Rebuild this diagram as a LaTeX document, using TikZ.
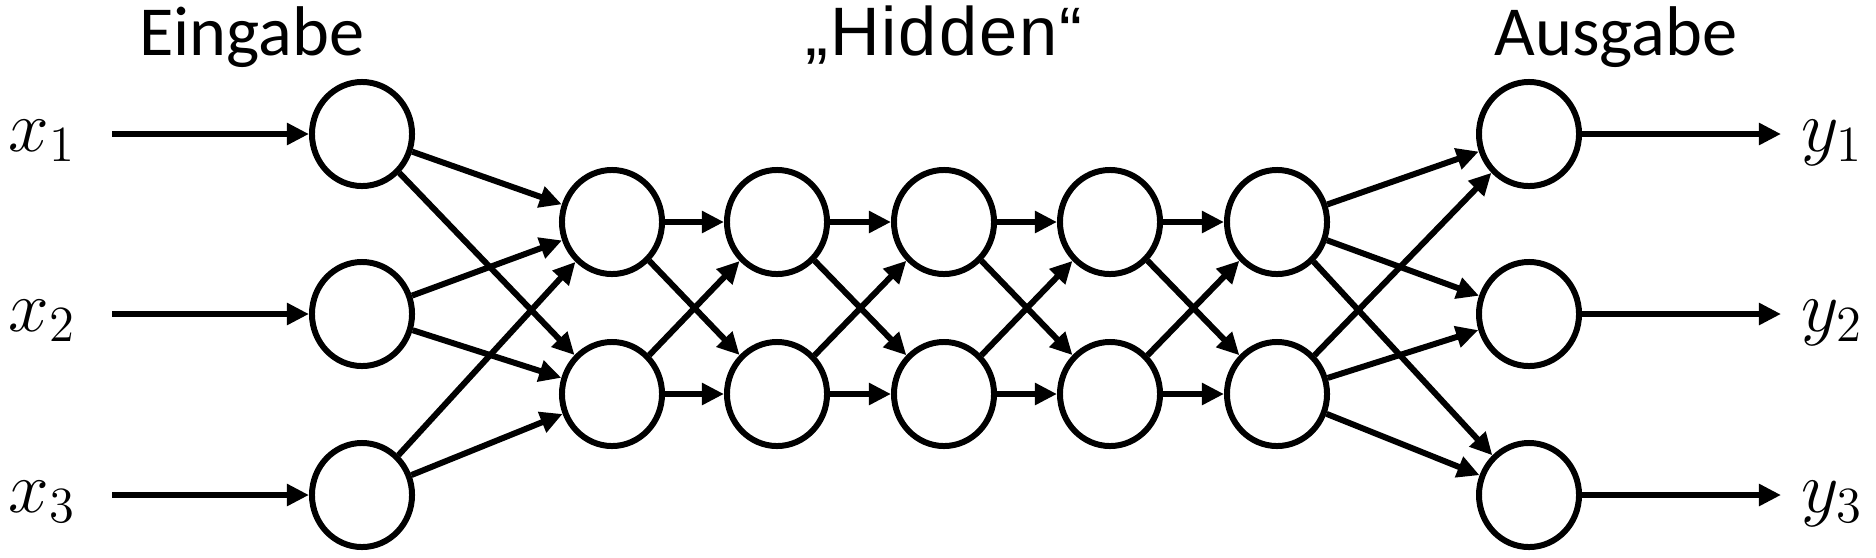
\documentclass[tikz,border=0pt]{standalone}
\usepackage{fontspec}
\setmainfont{Carlito}
\newfontfamily\arialfont[LetterSpace=3]{Liberation Sans}
\usetikzlibrary{arrows.meta,shapes.geometric}
\begin{document}
\begin{tikzpicture}[x=0.01cm,y=-0.01cm,
  neuron/.style={draw,ellipse,line width=1.7pt,minimum width=1cm,minimum height=1.04cm,inner sep=0pt},
  conn/.style={line width=1.7pt,-{Triangle[length=6.3pt,width=6pt]}},
  lbl/.style={font=\fontsize{20}{24}\selectfont,anchor=base},
  mlbl/.style={font=\fontsize{22.5}{26}\selectfont,anchor=base}]
\useasboundingbox (0,0) rectangle (1876,557);
% titles
\node[lbl] (t1) at (252,55) {Eingabe};
\node[lbl] (t2) at (944,55) {\arialfont\fontsize{19.5}{23}\selectfont „Hidden“};
\node[lbl] (t3) at (1616,55) {Ausgabe};
% input and output neurons
\foreach \k/\y in {1/134,2/314,3/495}{
  \node[neuron] (i\k) at (362,\y) {};
  \node[neuron] (o\k) at (1529,\y) {};
  \coordinate (xs\k) at (112,\y);
  \coordinate (ye\k) at (1781,\y);
  \node[mlbl] (lx\k) at (42,\y+17) {$x_\k$};
  \node[mlbl] (ly\k) at (1832,\y+17) {$y_\k$};
  \draw[conn] (xs\k) -- (i\k);
  \draw[conn] (o\k) -- (ye\k);
}
% hidden neurons
\foreach \l/\x in {1/612,2/777,3/944,4/1110,5/1277}{
  \node[neuron] (h\l a) at (\x,222) {};
  \node[neuron] (h\l b) at (\x,394) {};
}
% connections
\foreach \k in {1,2,3}{
  \foreach \q in {a,b}{
    \draw[conn] (i\k) -- (h1\q);
    \draw[conn] (h5\q) -- (o\k);
  }
}
\foreach \i/\j in {1/2,2/3,3/4,4/5}{
  \foreach \p in {a,b}{
    \foreach \q in {a,b}{
      \draw[conn] (h\i\p) -- (h\j\q);
    }
  }
}
\end{tikzpicture}
\end{document}
